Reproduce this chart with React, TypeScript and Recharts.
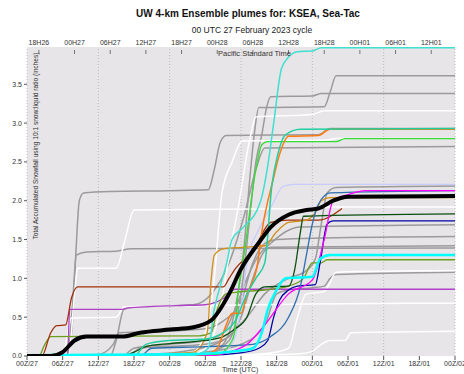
import React from 'react';
import { LineChart, Line, XAxis, YAxis, CartesianGrid, ReferenceLine } from 'recharts';

// hours after 00Z/27
const bottomTicks = [0, 6, 12, 18, 24, 30, 36, 42, 48, 54, 60, 66, 72];
const bottomLabels = ['00Z/27', '06Z/27', '12Z/27', '18Z/27', '00Z/28', '06Z/28', '12Z/28', '18Z/28', '00Z/01', '06Z/01', '12Z/01', '18Z/01', '00Z/02'];
const topTicks = [2, 8, 14, 20, 26, 32, 38, 44, 50, 56, 62, 68];
const topLabels = ['18H26', '00H27', '06H27', '12H27', '18H27', '00H28', '06H28', '12H28', '18H28', '00H01', '06H01', '12H01'];
const gridHours = [0, 12, 24, 36, 48, 60, 72];
const yTicks = [0, 0.5, 1, 1.5, 2, 2.5, 3, 3.5];

// [hour, inches] for each ensemble member
const gray1 = [[0, 0], [30, 0.02], [33, 0.15], [35, 0.6], [36.5, 1.4], [37.5, 2.3], [38.3, 2.9], [39, 3.2], [50, 3.21], [51, 3.4], [52, 3.61], [72, 3.61]];
const gray2 = [[0, 0], [30, 0.02], [34, 0.2], [36, 0.8], [37.5, 1.8], [38.5, 2.5], [39.5, 2.85], [40.3, 3.2], [41, 3.34], [48, 3.35], [49.5, 3.38], [72, 3.38]];
const gray3 = [[0, 0], [6.5, 0], [7.5, 0.3], [8.2, 1.3], [8.8, 2.0], [9.5, 2.1], [14, 2.12], [24, 2.13], [30.5, 2.14], [31.5, 2.4], [32.5, 2.75], [33.5, 2.84], [49, 2.85], [51, 2.93], [72, 2.93]];
const gray4 = [[0, 0], [14, 0], [15, 0.2], [16.3, 0.6], [18, 0.63], [28, 0.66], [31, 0.8], [34, 1.2], [36.5, 1.8], [38.5, 2.4], [40, 2.68], [72, 2.7]];
const gray5 = [[0, 0], [20, 0.02], [28, 0.08], [33, 0.2], [37, 0.5], [40, 0.8], [44, 1.0], [47, 1.1], [48.5, 1.25], [49.5, 1.7], [50.5, 2.1], [52, 2.17], [72, 2.19]];
const gray6 = [[0, 0], [16, 0], [18, 0.1], [24, 0.15], [30, 0.2], [33, 0.3], [35, 0.6], [37, 1.0], [39, 1.3], [41, 1.45], [43.5, 1.6], [46, 1.66], [72, 1.69]];
const gray7 = [[0, 0], [12, 0.02], [14.5, 0.15], [15.5, 0.3], [24, 0.32], [30, 0.35], [33, 0.45], [36, 0.7], [38, 1.2], [40, 1.45], [42, 1.5], [50, 1.52], [72, 1.54]];
const gray8 = [[0, 0], [17, 0], [19, 0.1], [30, 0.15], [34, 0.25], [36, 0.5], [38, 1.0], [39.5, 1.3], [41, 1.4], [72, 1.42]];
const gray9 = [[0, 0], [6.8, 0], [7.6, 0.6], [8.3, 1.3], [10, 1.34], [15, 1.35], [17.5, 1.38], [72, 1.39]];
const gray10 = [[0, 0], [20, 0.01], [30, 0.05], [36, 0.15], [40, 0.4], [42, 0.8], [44, 0.85], [48, 0.88], [50, 0.9], [51, 1.0], [52, 1.05], [72, 1.08]];

const white1 = [[0, 0], [26, 0], [29, 0.05], [31, 0.2], [32.5, 0.6], [34, 1.3], [35.5, 1.9], [37.5, 2.8], [38.5, 3.08], [48, 3.11], [50, 3.16], [72, 3.16]];
const white2 = [[0, 0], [24, 0], [28, 0.05], [30, 0.3], [31.5, 1.0], [32.8, 2.1], [34.5, 2.5], [36.2, 2.77], [50, 2.78], [52, 2.8], [72, 2.8]];
const white3 = [[0, 0], [7, 0.02], [8, 0.8], [8.5, 1.13], [15, 1.13], [16.5, 1.5], [18, 1.88], [48, 1.9], [50, 1.92], [72, 1.92]];
const white4 = [[0, 0], [6, 0], [7.5, 0.49], [15, 0.5], [16.3, 0.63], [30, 0.65], [48, 0.67], [72, 0.68]];
const white5 = [[0, 0], [30, 0], [40, 0.03], [44, 0.1], [45.5, 0.5], [47, 0.8], [50, 0.83], [51, 0.95], [52, 1.08], [72, 1.1]];
const white6 = [[0, 0], [24, 0], [36, 0.01], [46, 0.03], [48, 0.06], [49.5, 0.15], [51, 0.2], [53.5, 0.2], [54.5, 0.3], [72, 0.32]];

const turquoise = [[0, 0], [28, 0.01], [30.5, 0.1], [31.5, 0.6], [32.5, 0.9], [33.6, 1.2], [34.5, 1.5], [36.3, 1.65], [39.2, 1.97], [40.4, 2.4], [41.5, 3.0], [42.8, 3.7], [44, 3.85], [45.5, 3.92], [48, 3.93], [49.5, 3.97], [72, 3.97]];
const teal = [[0, 0], [18, 0], [20, 0.15], [24, 0.2], [30, 0.22], [33, 0.3], [35, 0.45], [37, 0.8], [38.5, 1.0], [40, 1.2], [41.2, 2.2], [42.2, 2.6], [43.5, 2.85], [46, 2.92], [72, 2.93]];
const orange = [[0, 0], [30, 0.02], [32, 0.1], [33.5, 0.4], [34.5, 0.55], [36, 0.55], [37, 0.8], [38.7, 1.15], [39.5, 1.6], [41.4, 2.27], [42.5, 2.6], [44, 2.83], [49, 2.84], [51, 2.92], [72, 2.92]];
const lime = [[0, 0], [32, 0.02], [34.5, 0.2], [35, 0.35], [35.5, 0.8], [36.5, 1.3], [38.5, 2.4], [39.5, 2.72], [40.5, 2.76], [52, 2.76], [53.5, 2.8], [72, 2.8]];
const lavender = [[0, 0], [28, 0], [32, 0.02], [34, 0.1], [35.5, 0.4], [36.3, 0.8], [37, 1.2], [39.2, 1.66], [41.4, 1.97], [43, 2.18], [45, 2.21], [72, 2.21]];
const steelblue = [[0, 0], [19, 0], [21, 0.1], [30, 0.12], [38, 0.15], [41, 0.25], [44, 0.5], [46, 0.9], [47, 1.3], [48, 1.7], [49, 1.95], [51, 2.1], [72, 2.13]];
const magenta = [[0, 0], [30, 0], [34, 0.05], [37, 0.15], [40, 0.4], [44, 0.8], [48, 0.98], [50, 1.5], [51.5, 2.0], [54, 2.08], [57, 2.13], [72, 2.13]];
const goldenrod = [[0, 0], [20, 0.02], [28, 0.05], [30.3, 0.3], [31, 1.0], [31.5, 1.3], [33, 1.38], [36, 1.4], [40, 1.42], [42, 1.6], [44, 1.72], [47, 1.75], [48.5, 1.85], [49.5, 2.0], [51, 2.04], [72, 2.04]];
const brown = [[0, 0], [2.5, 0], [4, 0.3], [5, 0.39], [6.5, 0.4], [7.5, 0.75], [8.5, 0.89], [33, 0.89], [34, 1.0], [35, 1.12], [38, 1.35], [41, 1.72], [44, 1.75], [49, 1.75], [53, 1.9]];
const darkgreen = [[0, 0], [16, 0], [18, 0.05], [20, 0.12], [24, 0.16], [30, 0.2], [33, 0.25], [35, 0.35], [37, 0.5], [38.5, 0.8], [40, 0.89], [44, 0.9], [45, 1.1], [46, 1.6], [46.5, 1.8], [72, 1.83]];
const navy = [[0, 0], [30, 0.01], [36, 0.04], [39, 0.1], [40.5, 0.2], [41.5, 0.5], [42.5, 0.72], [44, 0.85], [45.5, 0.9], [48.5, 0.92], [49.3, 1.2], [50.5, 1.7], [51.5, 1.74], [72, 1.74]];
const cyan = [[0, 0.01], [20, 0.02], [30, 0.03], [35, 0.06], [38, 0.1], [39.5, 0.3], [40.5, 0.6], [42, 0.85], [43.5, 1.0], [48, 1.02], [49.3, 1.25], [51, 1.3], [72, 1.3]];
const olive = [[0, 0], [2, 0], [3, 0.15], [4, 0.25], [29, 0.26], [31, 0.3], [32, 0.6], [33.5, 0.8], [35, 0.82], [40, 0.85], [44, 0.9], [46.5, 1.0], [48, 1.2], [49.5, 1.2], [50.5, 1.24], [72, 1.24]];
const purple = [[0, 0], [6.8, 0], [7.2, 0.6], [16, 0.6], [17, 0.62], [25, 0.65], [30, 0.66], [33, 0.74], [35, 0.86], [72, 0.86]];
const mean = [[0, 0], [4, 0], [6, 0.05], [8, 0.2], [10, 0.25], [16, 0.25], [19, 0.3], [24, 0.34], [28, 0.37], [31, 0.46], [34, 0.8], [36, 1.12], [39, 1.46], [41, 1.66], [44, 1.82], [47, 1.88], [49, 1.9], [51.5, 2.0], [54, 2.05], [72, 2.06]];

const GRAY = '#9b9b9b';
const members = [
  { pts: gray1, color: GRAY, w: 1.5 },
  { pts: gray2, color: GRAY, w: 1.5 },
  { pts: gray3, color: GRAY, w: 1.5 },
  { pts: gray4, color: GRAY, w: 1.5 },
  { pts: gray5, color: GRAY, w: 1.5 },
  { pts: gray6, color: GRAY, w: 1.5 },
  { pts: gray7, color: GRAY, w: 1.5 },
  { pts: gray8, color: GRAY, w: 1.5 },
  { pts: gray9, color: GRAY, w: 1.5 },
  { pts: gray10, color: GRAY, w: 1.5 },
  { pts: white1, color: '#ffffff', w: 1.5 },
  { pts: white2, color: '#ffffff', w: 1.5 },
  { pts: white3, color: '#ffffff', w: 1.5 },
  { pts: white4, color: '#ffffff', w: 1.5 },
  { pts: white5, color: '#ffffff', w: 1.5 },
  { pts: white6, color: '#ffffff', w: 1.5 },
  { pts: lavender, color: '#c8ccff', w: 1.3 },
  { pts: purple, color: '#b040c8', w: 1.3 },
  { pts: olive, color: '#6e9e1e', w: 1.3 },
  { pts: brown, color: '#a3300c', w: 1.3 },
  { pts: goldenrod, color: '#d0901c', w: 1.3 },
  { pts: darkgreen, color: '#0b4f10', w: 1.3 },
  { pts: navy, color: '#0000a0', w: 1.3 },
  { pts: steelblue, color: '#2f6fb0', w: 1.3 },
  { pts: magenta, color: '#ff00ff', w: 1.3 },
  { pts: lime, color: '#32dc32', w: 1.3 },
  { pts: orange, color: '#ff7a10', w: 1.5 },
  { pts: teal, color: '#1fcf9f', w: 1.5 },
  { pts: turquoise, color: '#3fe0d0', w: 1.5 },
  { pts: cyan, color: '#00ffff', w: 2.5 },
  { pts: mean, color: '#000000', w: 4 },
];

const toRows = (pts: number[][]) => pts.map(([h, v]) => ({ h, v }));

const FONT = '"Liberation Sans", Arial, sans-serif';

const TopTick = (props: any) => {
  const { x, y, payload } = props;
  const i = topTicks.indexOf(payload.value);
  return (
    <g>
      <text x={x} y={y} textAnchor="middle" fontSize={7} fill="#333" fontFamily={FONT}>{topLabels[i]}</text>
      <line x1={x} x2={x} y1={y + 5} y2={y + 9} stroke="#555" strokeWidth={0.8} />
    </g>
  );
};

export default function App() {
  return (
    <div style={{ position: 'absolute', left: 0, top: 0, width: 464, height: 374, background: '#fff', fontFamily: FONT }}>
      <div style={{ position: 'absolute', top: 8, left: 0, width: 496, textAlign: 'center', fontSize: 10, fontWeight: 'bold', color: '#111' }}>
        UW 4-km Ensemble plumes for: KSEA, Sea-Tac
      </div>
      <div style={{ position: 'absolute', top: 25, left: 0, width: 504, textAlign: 'center', fontSize: 8.5, color: '#222' }}>
        00 UTC 27 February 2023 cycle
      </div>
      <LineChart width={464} height={374} margin={{ top: 35, right: 9, bottom: 0, left: 0 }}>
        <CartesianGrid horizontal={false} vertical={false} fill="#e7e5e8" />
        {gridHours.map((h) => (
          <ReferenceLine key={h} x={h} xAxisId="bottom" stroke="#b0b0b0" strokeDasharray="1 2" strokeWidth={0.8} />
        ))}
        <XAxis
          xAxisId="bottom"
          dataKey="h"
          type="number"
          domain={[0, 72]}
          ticks={bottomTicks}
          tickFormatter={(v: number) => bottomLabels[bottomTicks.indexOf(v)]}
          axisLine={false}
          tickSize={4}
          tickMargin={1}
          height={18}
          interval={0}
          tick={{ fontSize: 7, fill: '#333', fontFamily: FONT }}
          tickLine={{ stroke: '#555' }}
        />
        <XAxis
          xAxisId="top"
          orientation="top"
          dataKey="h"
          type="number"
          domain={[0, 72]}
          allowDataOverflow
          ticks={topTicks}
          axisLine={false}
          tickLine={false}
          tickSize={0}
          tickMargin={2}
          height={12}
          interval={0}
          tick={<TopTick />}
        />
        <YAxis
          type="number"
          domain={[0, 3.98]}
          allowDataOverflow
          ticks={yTicks}
          tickFormatter={(v: number) => v.toFixed(1)}
          axisLine={false}
          tickSize={3}
          tickMargin={2}
          width={27}
          tick={{ fontSize: 7, fill: '#333', fontFamily: FONT }}
          tickLine={{ stroke: '#555' }}
        />
        {/* carries the PST axis, not drawn */}
        <Line
          xAxisId="top"
          data={toRows(mean)}
          dataKey="v"
          stroke="none"
          dot={false}
          activeDot={false}
          isAnimationActive={false}
        />
        {members.map((m, i) => (
          <Line
            key={i}
            xAxisId="bottom"
            data={toRows(m.pts)}
            dataKey="v"
            type="monotone"
            stroke={m.color}
            strokeWidth={m.w}
            dot={false}
            activeDot={false}
            isAnimationActive={false}
          />
        ))}
      </LineChart>
      <div style={{ position: 'absolute', left: 222, top: 366, fontSize: 7, lineHeight: '8px', color: '#333', whiteSpace: 'nowrap' }}>Time (UTC)</div>
      <div style={{ position: 'absolute', left: 218, top: 49, fontSize: 7.5, color: '#333', whiteSpace: 'nowrap' }}>Pacific Standard Time</div>
      <div
        style={{
          position: 'absolute', left: 36 - 110, top: 146 - 5, width: 220, height: 10, lineHeight: '10px',
          textAlign: 'center', fontSize: 6.6, color: '#333', whiteSpace: 'nowrap', transform: 'rotate(-90deg)',
        }}
      >
        Total Accumulated Snowfall using 10:1 snow:liquid ratio (inches)
      </div>
    </div>
  );
}
